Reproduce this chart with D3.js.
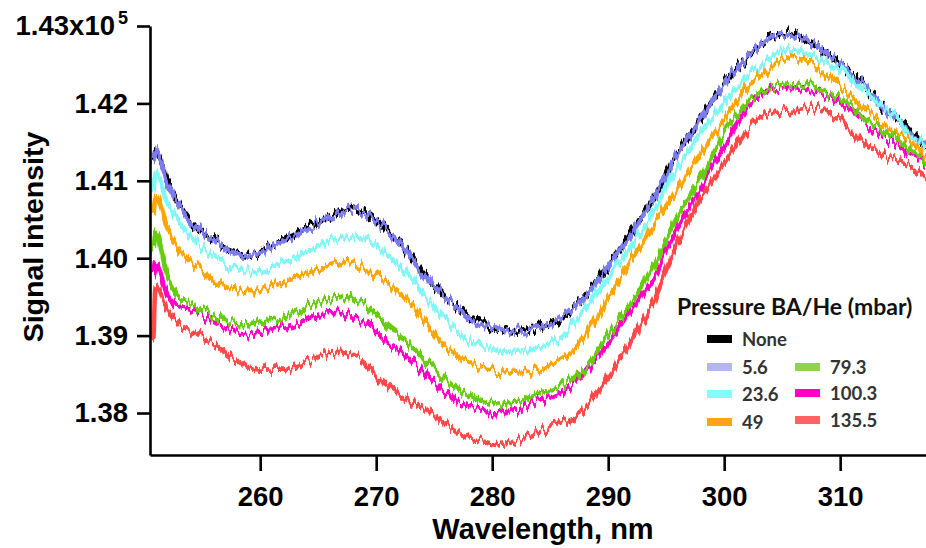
<!DOCTYPE html>
<html><head><meta charset="utf-8">
<script src="https://cdn.jsdelivr.net/npm/d3@7"></script>
<style>body{margin:0;background:#fff}</style>
</head><body><svg id="c" width="926" height="548"></svg>
<script>
// ---------- DATA ----------
const wavelengths = [250.8,
 251,252,253,254,255,256,257,258,259,260,
 261,262,263,264,265,266,267,268,269,270,
 271,272,273,274,275,276,277,278,279,280,
 281,282,283,284,285,286,287,288,289,290,
 291,292,293,294,295,296,297,298,299,300,
 301,302,303,304,305,306,307,308,309,310,
 311,312,313,314,315,316,317,
 317.4];

const seriesNames = ["None", "5.6", "23.6", "49", "79.3", "100.3", "135.5"];

const sNone = [1.4127,
 1.4137,1.4097,1.4069,1.4047,1.4034,1.4024,1.4013,1.4007,1.4003,1.4008,
 1.4016,1.4024,1.4031,1.4039,1.4047,1.4055,1.4061,1.4065,1.4060,1.4049,
 1.4036,1.4020,1.4003,1.3981,1.3965,1.3950,1.3937,1.3925,1.3916,1.3909,
 1.3905,1.3906,1.3909,1.3911,1.3915,1.3923,1.3936,1.3951,1.3969,1.3991,
 1.4012,1.4033,1.4056,1.4080,1.4108,1.4136,1.4159,1.4181,1.4204,1.4225,
 1.4243,1.4260,1.4274,1.4285,1.4291,1.4288,1.4282,1.4274,1.4263,1.4252,
 1.4238,1.4224,1.4207,1.4191,1.4179,1.4163,1.4150,
 1.4142];
const s5_6 = [1.4128,
 1.4140,1.4096,1.4068,1.4046,1.4033,1.4023,1.4012,1.4006,1.4002,1.4007,
 1.4015,1.4023,1.4030,1.4038,1.4046,1.4054,1.4060,1.4064,1.4059,1.4048,
 1.4035,1.4019,1.4002,1.3980,1.3964,1.3949,1.3936,1.3924,1.3915,1.3908,
 1.3904,1.3905,1.3908,1.3910,1.3914,1.3922,1.3935,1.3950,1.3968,1.3990,
 1.4011,1.4032,1.4055,1.4079,1.4107,1.4135,1.4158,1.4180,1.4203,1.4225,
 1.4243,1.4260,1.4274,1.4285,1.4291,1.4288,1.4282,1.4274,1.4263,1.4252,
 1.4238,1.4224,1.4207,1.4191,1.4179,1.4163,1.4150,
 1.4142];
const s23_6 = [1.4088,
 1.4111,1.4071,1.4047,1.4029,1.4013,1.4002,1.3993,1.3986,1.3982,1.3983,
 1.3987,1.3994,1.4000,1.4008,1.4016,1.4022,1.4026,1.4027,1.4024,1.4016,
 1.4004,1.3991,1.3977,1.3955,1.3937,1.3920,1.3906,1.3894,1.3888,1.3883,
 1.3879,1.3879,1.3881,1.3885,1.3890,1.3898,1.3915,1.3934,1.3955,1.3974,
 1.3995,1.4016,1.4039,1.4062,1.4091,1.4118,1.4140,1.4162,1.4182,1.4201,
 1.4219,1.4234,1.4248,1.4260,1.4268,1.4269,1.4265,1.4260,1.4252,1.4243,
 1.4230,1.4217,1.4204,1.4191,1.4179,1.4158,1.4149,
 1.4140];
const s49 = [1.4056,
 1.4079,1.4040,1.4011,1.3995,1.3985,1.3972,1.3963,1.3959,1.3956,1.3959,
 1.3963,1.3969,1.3976,1.3982,1.3987,1.3991,1.3995,1.3994,1.3987,1.3978,
 1.3968,1.3955,1.3942,1.3923,1.3903,1.3885,1.3874,1.3865,1.3859,1.3856,
 1.3853,1.3852,1.3853,1.3856,1.3861,1.3868,1.3881,1.3899,1.3923,1.3949,
 1.3973,1.3998,1.4021,1.4045,1.4069,1.4089,1.4113,1.4136,1.4158,1.4179,
 1.4201,1.4221,1.4235,1.4247,1.4256,1.4260,1.4256,1.4247,1.4235,1.4221,
 1.4208,1.4195,1.4182,1.4170,1.4160,1.4153,1.4137,
 1.4131];
const s79_3 = [1.4011,
 1.4034,1.3974,1.3949,1.3941,1.3934,1.3927,1.3920,1.3916,1.3916,1.3919,
 1.3921,1.3924,1.3931,1.3938,1.3943,1.3947,1.3950,1.3947,1.3941,1.3927,
 1.3910,1.3898,1.3887,1.3872,1.3858,1.3843,1.3831,1.3822,1.3816,1.3813,
 1.3812,1.3814,1.3819,1.3826,1.3830,1.3836,1.3845,1.3858,1.3879,1.3901,
 1.3921,1.3942,1.3967,1.3991,1.4024,1.4053,1.4079,1.4105,1.4133,1.4162,
 1.4182,1.4201,1.4213,1.4221,1.4225,1.4226,1.4224,1.4220,1.4213,1.4207,
 1.4195,1.4182,1.4172,1.4162,1.4153,1.4140,1.4129,
 1.4124];
const s100_3 = [1.3978,
 1.3995,1.3952,1.3937,1.3932,1.3927,1.3919,1.3911,1.3906,1.3903,1.3906,
 1.3909,1.3911,1.3915,1.3921,1.3927,1.3929,1.3929,1.3924,1.3919,1.3905,
 1.3890,1.3881,1.3868,1.3853,1.3839,1.3826,1.3816,1.3808,1.3804,1.3801,
 1.3801,1.3804,1.3810,1.3817,1.3821,1.3827,1.3837,1.3852,1.3871,1.3890,
 1.3911,1.3933,1.3955,1.3978,1.4011,1.4040,1.4066,1.4092,1.4119,1.4144,
 1.4172,1.4195,1.4210,1.4217,1.4221,1.4221,1.4219,1.4215,1.4208,1.4201,
 1.4189,1.4176,1.4166,1.4155,1.4145,1.4135,1.4126,
 1.4120];
const s135_5 = [1.3894,
 1.3965,1.3933,1.3914,1.3905,1.3898,1.3890,1.3878,1.3868,1.3859,1.3856,
 1.3856,1.3856,1.3861,1.3866,1.3872,1.3878,1.3879,1.3874,1.3866,1.3848,
 1.3834,1.3823,1.3814,1.3808,1.3797,1.3787,1.3777,1.3769,1.3764,1.3761,
 1.3759,1.3764,1.3769,1.3774,1.3781,1.3787,1.3794,1.3806,1.3827,1.3849,
 1.3871,1.3892,1.3918,1.3946,1.3985,1.4021,1.4051,1.4079,1.4101,1.4123,
 1.4145,1.4166,1.4179,1.4188,1.4190,1.4192,1.4194,1.4195,1.4189,1.4179,
 1.4163,1.4149,1.4140,1.4131,1.4126,1.4120,1.4111,
 1.4105];

const seriesValues = [sNone, s5_6, s23_6, s49, s79_3, s100_3, s135_5];
const lineColors   = ["#000000", "#7c7cee", "#80f6f6", "#ffa500", "#66cc11", "#ff00c8", "#ff4a4a"];
const swatchColors = ["#000000", "#b4b4f6", "#80ffff", "#ffa514", "#8fd44c", "#ff00c8", "#ff6262"];
const drawOrder = [0, 1, 2, 3, 5, 4, 6];

const xTicks = [260, 270, 280, 290, 300, 310];
const yTicks = [1.38, 1.39, 1.40, 1.41, 1.42, 1.43];
const yTickLabels = ["1.38", "1.39", "1.40", "1.41", "1.42", "1.43x10"];
const yExponent = "5";
const xTitle = "Wavelength, nm";
const yTitle = "Signal intensity";
const legendTitle = "Pressure BA/He (mbar)";

// ---------- CHART ----------
const svg = d3.select("#c");
const W = 926, H = 548;
const L = 150, R = 926, T = 26, B = 455;
const x = d3.scaleLinear().domain([250.5, 317.4]).range([L, R]);
const y = d3.scaleLinear().domain([1.374574, 1.43]).range([B, T]);
const axisFont = "'Liberation Sans', Arial, sans-serif";

const defs = svg.append("defs");
defs.append("clipPath").attr("id", "clip")
  .append("rect").attr("x", L + 1).attr("y", 0).attr("width", R - L).attr("height", B - 1);

// measurement-noise look: vertical-only jitter of each trace (visual style only)
seriesNames.forEach((_, k) => {
  const f = defs.append("filter").attr("id", "jit" + k)
    .attr("filterUnits", "userSpaceOnUse").attr("x", 0).attr("y", 0).attr("width", W).attr("height", H);
  f.append("feTurbulence").attr("type", "fractalNoise").attr("baseFrequency", "0.3 0.02")
    .attr("numOctaves", 2).attr("seed", 3 + k * 7).attr("result", "n");
  f.append("feColorMatrix").attr("in", "n").attr("type", "matrix")
    .attr("values", "0 0 0 0 0.5  0 1.6 0 0 -0.3  0 0 0 0 0  0 0 0 0 1").attr("result", "m");
  f.append("feDisplacementMap").attr("in", "SourceGraphic").attr("in2", "m")
    .attr("scale", 12).attr("xChannelSelector", "R").attr("yChannelSelector", "G");
});

const gLines = svg.append("g").attr("clip-path", "url(#clip)");
const line = d3.line().x((d, i) => x(wavelengths[i])).y(d => y(d)).curve(d3.curveMonotoneX);
drawOrder.forEach(k => {
  gLines.append("g").attr("filter", `url(#jit${k})`).append("path")
    .attr("d", line(seriesValues[k]))
    .attr("fill", "none")
    .attr("stroke", lineColors[k])
    .attr("stroke-width", 4.6)
    .attr("stroke-linejoin", "round");
});

// y axis
const yAxis = svg.append("g").attr("transform", `translate(${L},0)`)
  .call(d3.axisLeft(y).tickValues(yTicks).tickSize(13).tickSizeOuter(0).tickPadding(9)
    .tickFormat((d, i) => yTickLabels[i]));
yAxis.select(".domain").attr("stroke", "#000").attr("stroke-width", 2.6);
yAxis.selectAll(".tick line").attr("stroke", "#000").attr("stroke-width", 2.6);
yAxis.selectAll(".tick text").attr("font-family", axisFont).attr("font-weight", "bold")
  .attr("font-size", 27.5).attr("fill", "#000");
yAxis.selectAll(".tick text").filter((d, i) => i === yTicks.length - 1)
  .append("tspan").attr("font-size", 18).attr("dy", "-0.65em").attr("dx", 3).text(yExponent);

// x axis
const xAxis = svg.append("g").attr("transform", `translate(0,${B})`)
  .call(d3.axisBottom(x).tickValues(xTicks).tickSize(16).tickSizeOuter(0).tickPadding(15)
    .tickFormat(d3.format("d")));
xAxis.select(".domain").attr("stroke", "#000").attr("stroke-width", 2.6);
xAxis.selectAll(".tick line").attr("stroke", "#000").attr("stroke-width", 2.6);
xAxis.selectAll(".tick text").attr("font-family", axisFont).attr("font-weight", "bold")
  .attr("font-size", 27.5).attr("fill", "#000");

// titles
svg.append("text").attr("x", 543).attr("y", 539).attr("text-anchor", "middle")
  .attr("font-family", axisFont).attr("font-weight", "bold").attr("font-size", 29).text(xTitle);
svg.append("text").attr("transform", "translate(43,237) rotate(-90)").attr("text-anchor", "middle")
  .attr("font-family", axisFont).attr("font-weight", "bold").attr("font-size", 28.5).text(yTitle);

// legend
const legFont = "Lato, 'Open Sans', sans-serif";
const lg = svg.append("g");
lg.append("text").attr("x", 677).attr("y", 315).attr("font-family", legFont).attr("font-weight", "bold")
  .attr("font-size", 23).attr("fill", "#111").text(legendTitle);
const legPos = [[707, 339], [707, 367], [707, 394], [707, 422], [795, 367], [795, 393], [795, 420]];
seriesNames.forEach((name, k) => {
  const [lx, ly] = legPos[k];
  lg.append("rect").attr("x", lx).attr("y", ly - 4).attr("width", 25).attr("height", 8).attr("fill", swatchColors[k]);
  lg.append("text").attr("x", lx + 35).attr("y", ly + 6.5).attr("font-family", legFont).attr("font-weight", "bold")
    .attr("font-size", 18.5).attr("fill", "#333").text(name);
});
</script></body></html>
